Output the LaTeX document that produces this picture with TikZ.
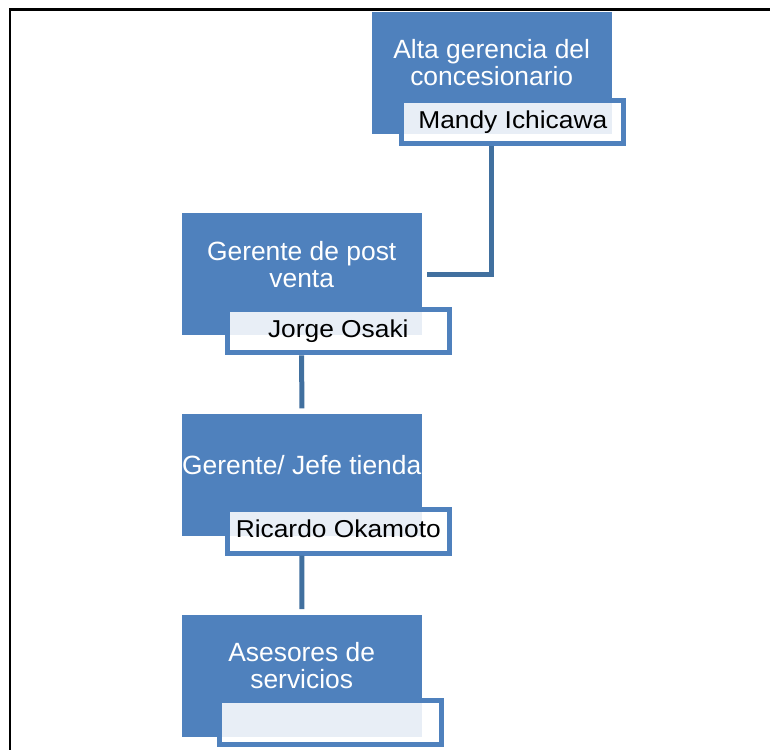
\documentclass[tikz,border=0pt]{standalone}
\usepackage{fontspec}
\newfontfamily\whitefont{Liberation Sans}
\newfontfamily\namefont{Liberation Sans}[FakeStretch=1.08]
\definecolor{boxblue}{HTML}{4F81BD}
\definecolor{linkblue}{HTML}{41709F}
\tikzset{
  bluebox/.style={rectangle, fill=boxblue, draw=none, inner sep=0pt, outer sep=0pt,
    minimum width=240pt, minimum height=122pt},
  namebox/.style={rectangle, draw=boxblue, line width=5pt, fill=white, fill opacity=0.87,
    text opacity=1, inner sep=0pt, minimum width=222pt, minimum height=43.5pt,
    text height=17.5pt, text depth=5pt,
    font=\namefont\fontsize{24.4}{28}\selectfont, text=black},
  boxtext/.style={anchor=base, inner sep=0pt, text=white,
    font=\whitefont\fontsize{26.4}{27}\selectfont},
  conn/.style={draw=linkblue, line width=5pt},
  frameline/.style={draw=black, line width=2.5pt}
}
\begin{document}
\begin{tikzpicture}[x=1pt,y=-1pt]
\useasboundingbox (0,0) rectangle (770,750);
\fill[white] (0,0) rectangle (770,750);
\draw[frameline] (770,9.5) -- (10,9.5) -- (10,750);

% blue boxes
\node[bluebox] (b1) at (491.7,72.7) {};
\node[bluebox] (b2) at (301.7,274) {};
\node[bluebox] (b3) at (301.8,475.3) {};
\node[bluebox] (b4) at (302,675.8) {};

% box texts
\node[boxtext] (t1a) at (491.7,58.3) {Alta gerencia del};
\node[boxtext] (t1b) at (491.7,85.3) {concesionario};
\node[boxtext] (t2a) at (301.7,260) {Gerente de post};
\node[boxtext] (t2b) at (301.7,287.3) {venta};
\node[boxtext] (t3) at (301.7,474.5) {Gerente/ Jefe tienda};
\node[boxtext] (t4a) at (301.7,661.5) {Asesores de};
\node[boxtext] (t4b) at (301.7,688.5) {servicios};

% name boxes
\node[namebox] (l1) at (512.8,121.9) {Mandy Ichicawa};
\node[namebox] (l2) at (338.3,331) {Jorge Osaki};
\node[namebox] (l3) at (338.3,531.3) {Ricardo Okamoto};
\node[namebox] (l4) at (330.3,722.3) {};

% connectors
\coordinate (c1) at (427,274);
\draw[conn] (b1.center |- l1.south) |- (c1);
\draw[conn, shorten >=6pt] (b2.center |- l2.south) -- (b3.north);
\draw[conn, shorten >=5.7pt] (b3.center |- l3.south) -- (b4.north);
\end{tikzpicture}
\end{document}
